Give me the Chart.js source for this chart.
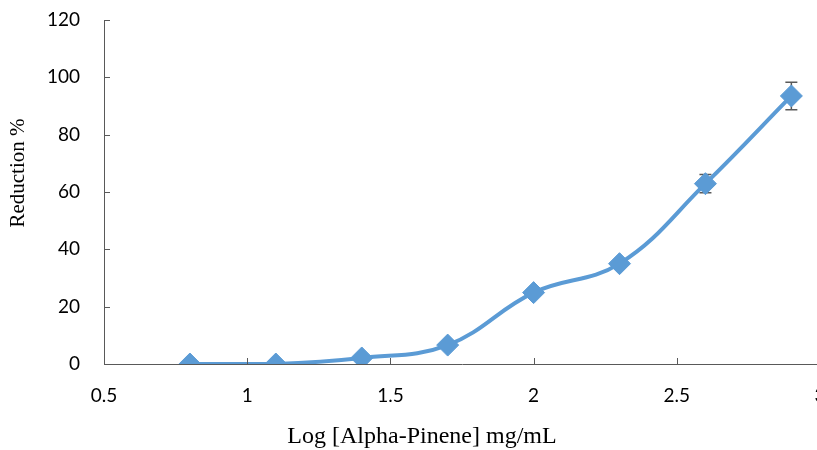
<!DOCTYPE html>
<html>
<head>
<meta charset="utf-8">
<script src="https://cdn.jsdelivr.net/npm/chart.js@4/dist/chart.umd.min.js"></script>
<style>
  html, body { margin: 0; padding: 0; background: #ffffff; }
  #wrap { width: 817px; height: 450px; overflow: hidden; position: relative; }
  canvas { display: block; }
</style>
</head>
<body>
<div id="wrap"><canvas id="c" width="840" height="450"></canvas></div>
<script>
// Log concentration of alpha-pinene (mg/mL) and the measured reduction (%)
const logConc = [0.8, 1.1, 1.4, 1.7, 2.0, 2.3, 2.6, 2.9];
const reduction = [0, 0, 2.1, 6.6, 24.9, 35.0, 62.9, 93.5];
const reductionErr = [0, 0, 0, 0, 0.8, 1.2, 3.2, 4.8];

const xTicks = [0.5, 1, 1.5, 2, 2.5, 3];
const yTicks = [0, 20, 40, 60, 80, 100, 120];

const xTitle = 'Log [Alpha-Pinene] mg/mL';
const yTitle = 'Reduction %';

const axisColor = '#595959';
const lineColor = '#5B9BD5';
const tickFont = { family: 'Lato', size: 19 };
const titleFont = 'Liberation Serif';

// Short tick marks pointing into the plot area
const innerTicks = {
  id: 'innerTicks',
  afterDatasetsDraw(chart) {
    const { ctx, scales: { x, y } } = chart;
    ctx.save();
    ctx.strokeStyle = axisColor;
    ctx.lineWidth = 1;
    ctx.beginPath();
    yTicks.forEach(v => {
      const py = Math.round(y.getPixelForValue(v)) + 0.5;
      ctx.moveTo(x.left, py);
      ctx.lineTo(x.left + 6, py);
    });
    xTicks.forEach(v => {
      const px = Math.round(x.getPixelForValue(v)) + 0.5;
      ctx.moveTo(px, y.bottom);
      ctx.lineTo(px, y.bottom - 6);
    });
    ctx.stroke();
    ctx.restore();
  }
};

// Error bars (mean ± deviation) under the markers
const errorBars = {
  id: 'errorBars',
  beforeDatasetsDraw(chart) {
    const { ctx, scales: { x, y } } = chart;
    ctx.save();
    ctx.strokeStyle = '#595959';
    ctx.lineWidth = 1.5;
    logConc.forEach((xv, i) => {
      const e = reductionErr[i];
      if (!e) return;
      const px = x.getPixelForValue(xv);
      const top = y.getPixelForValue(reduction[i] + e);
      const bot = y.getPixelForValue(reduction[i] - e);
      ctx.beginPath();
      ctx.moveTo(px, top); ctx.lineTo(px, bot);
      ctx.moveTo(px - 6, top); ctx.lineTo(px + 6, top);
      ctx.moveTo(px - 6, bot); ctx.lineTo(px + 6, bot);
      ctx.stroke();
    });
    ctx.restore();
  }
};

// Axis titles
const axisTitles = {
  id: 'axisTitles',
  afterDraw(chart) {
    const { ctx } = chart;
    ctx.save();
    ctx.fillStyle = '#000000';
    ctx.textAlign = 'center';
    ctx.textBaseline = 'middle';
    ctx.font = '24px "' + titleFont + '"';
    ctx.fillText(xTitle, 422, 437);
    ctx.translate(18, 173);
    ctx.rotate(-Math.PI / 2);
    ctx.font = '21px "' + titleFont + '"';
    ctx.fillText(yTitle, 0, 0);
    ctx.restore();
  }
};

new Chart(document.getElementById('c'), {
  type: 'scatter',
  data: {
    datasets: [{
      data: logConc.map((v, i) => ({ x: v, y: reduction[i] })),
      showLine: true,
      borderColor: lineColor,
      backgroundColor: lineColor,
      borderWidth: 4,
      tension: 0.4,
      pointStyle: 'rectRot',
      pointRadius: 11,
      pointHoverRadius: 11,
      pointBorderWidth: 1,
      pointBorderColor: lineColor,
      pointBackgroundColor: lineColor
    }]
  },
  options: {
    responsive: false,
    devicePixelRatio: 1,
    animation: false,
    layout: { padding: { top: 20, right: 20, left: 0, bottom: 0 } },
    plugins: { legend: { display: false }, tooltip: { enabled: false } },
    scales: {
      x: {
        type: 'linear',
        min: 0.5, max: 3,
        afterBuildTicks: s => { s.ticks = xTicks.map(v => ({ value: v })); },
        afterFit: s => { s.height = 86; s.paddingLeft = 0; s.paddingRight = 0; },
        grid: { display: true, drawOnChartArea: false, drawTicks: false },
        border: { color: axisColor, width: 1 },
        ticks: {
          padding: 20,
          color: '#000000',
          font: tickFont,
          maxRotation: 0,
          callback: v => String(v)
        }
      },
      y: {
        min: 0, max: 120,
        afterBuildTicks: s => { s.ticks = yTicks.map(v => ({ value: v })); },
        afterFit: s => { s.width = 104; s.paddingTop = 0; s.paddingBottom = 0; },
        grid: { display: true, drawOnChartArea: false, drawTicks: false },
        border: { color: axisColor, width: 1 },
        ticks: {
          padding: 24,
          color: '#000000',
          font: tickFont,
          callback: v => String(v)
        }
      }
    }
  },
  plugins: [errorBars, innerTicks, axisTitles]
});
</script>
</body>
</html>
